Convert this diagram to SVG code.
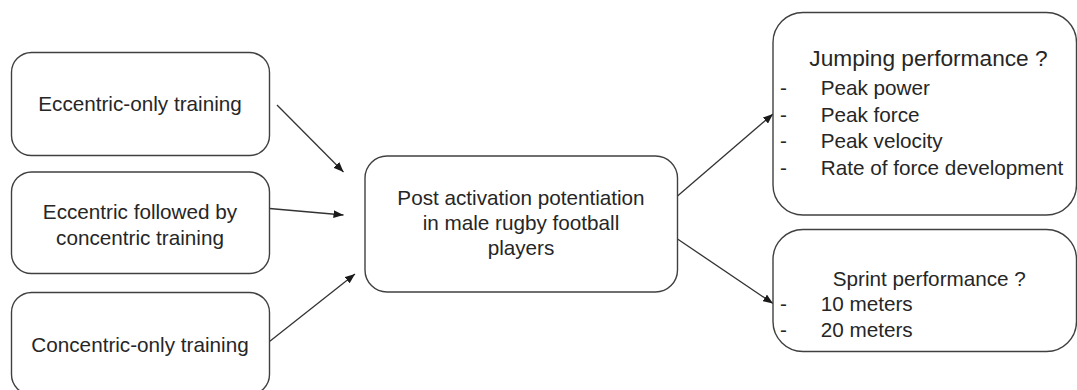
<svg xmlns="http://www.w3.org/2000/svg" width="1077" height="390" viewBox="0 0 1077 390">
  <style>
    .box { fill: #ffffff; stroke: #404040; stroke-width: 1.4; }
    .t { font-family: "Liberation Sans", Arial, sans-serif; font-size: 20.7px; fill: #262626; }
    .c { text-anchor: middle; }
    .big { font-size: 22.7px; }
    .conn { stroke: #333333; stroke-width: 1.3; fill: none; marker-end: url(#arrow); }
  </style>
  <defs>
    <marker id="arrow" markerUnits="userSpaceOnUse" markerWidth="10" markerHeight="8" viewBox="0 0 10 8" refX="10" refY="4" orient="auto">
      <path d="M0,0 L10,4 L0,8 z" fill="#1a1a1a"/>
    </marker>
  </defs>
  <rect width="1077" height="390" fill="#ffffff"/>

  <g id="connectors">
    <line class="conn" x1="277" y1="105" x2="343.5" y2="172"/>
    <line class="conn" x1="269.5" y1="208.5" x2="343.5" y2="215"/>
    <line class="conn" x1="269.5" y1="341.5" x2="355" y2="274"/>
    <line class="conn" x1="677.5" y1="196" x2="773" y2="114"/>
    <line class="conn" x1="677.5" y1="239" x2="773" y2="303.5"/>
  </g>

  <g id="eccentric-only">
    <rect class="box" x="11.5" y="52.5" width="258" height="103" rx="20"/>
    <text class="t c" x="140" y="111">Eccentric-only training</text>
  </g>

  <g id="eccentric-concentric">
    <rect class="box" x="11.5" y="172" width="258" height="101.5" rx="20"/>
    <text class="t c" x="140" y="219">Eccentric followed by</text>
    <text class="t c" x="140" y="244.5">concentric training</text>
  </g>

  <g id="concentric-only">
    <rect class="box" x="11.5" y="292.5" width="258" height="102" rx="20"/>
    <text class="t c" x="140" y="352">Concentric-only training</text>
  </g>

  <g id="pap">
    <rect class="box" x="365" y="156" width="312.5" height="136" rx="22"/>
    <text class="t c" x="521" y="205">Post activation potentiation</text>
    <text class="t c" x="521" y="230">in male rugby football</text>
    <text class="t c" x="521" y="255">players</text>
  </g>

  <g id="jumping">
    <rect class="box" x="773" y="12.5" width="303.5" height="202.5" rx="30"/>
    <text class="t big" x="809.3" y="66">Jumping performance ?</text>
    <text class="t" x="780" y="95">-</text>
    <text class="t" x="820.7" y="95">Peak power</text>
    <text class="t" x="780" y="121.7">-</text>
    <text class="t" x="820.7" y="121.7">Peak force</text>
    <text class="t" x="780" y="148.3">-</text>
    <text class="t" x="820.7" y="148.3">Peak velocity</text>
    <text class="t" x="780" y="175">-</text>
    <text class="t" x="820.7" y="175">Rate of force development</text>
  </g>

  <g id="sprint">
    <rect class="box" x="773" y="229.5" width="303.5" height="122" rx="30"/>
    <text class="t" x="832.7" y="286">Sprint performance ?</text>
    <text class="t" x="780" y="310.7">-</text>
    <text class="t" x="820.7" y="310.7">10 meters</text>
    <text class="t" x="780" y="337.3">-</text>
    <text class="t" x="820.7" y="337.3">20 meters</text>
  </g>
</svg>
